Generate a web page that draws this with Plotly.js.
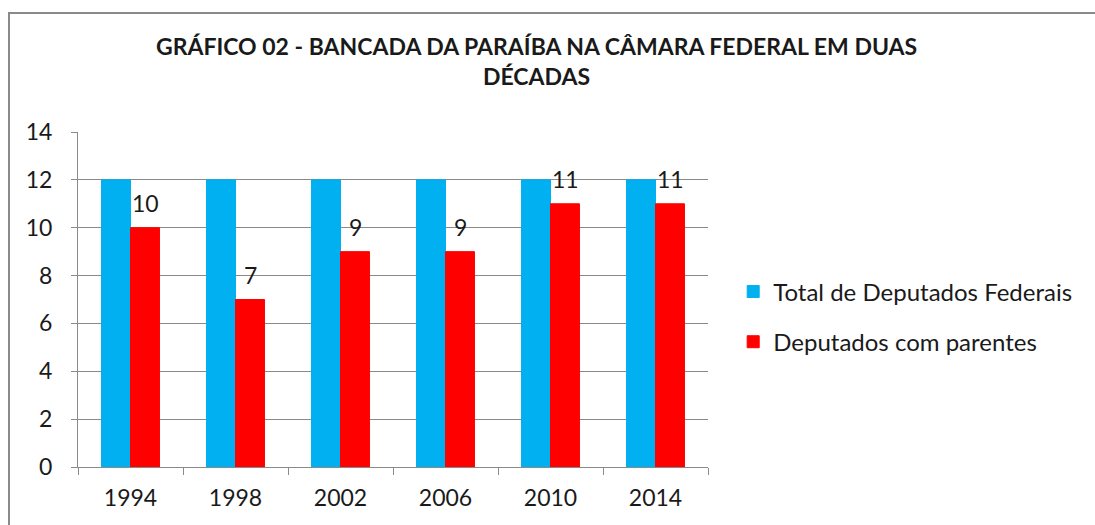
<!DOCTYPE html>
<html>
<head>
<meta charset="utf-8">
<script src="https://cdn.plot.ly/plotly-3.0.1.min.js"></script>
<style>
  html, body { margin: 0; padding: 0; background: #fff; }
  #wrap { position: relative; width: 1095px; height: 525px; overflow: hidden; }
  #chart { position: absolute; left: 0; top: 0; width: 1095px; height: 525px; }
  #frame { position: absolute; left: 8px; top: 12px; width: 1100px; height: 600px;
           border-left: 2px solid #8a8a8a; border-top: 2px solid #8a8a8a; pointer-events: none; }
</style>
</head>
<body>
<div id="wrap">
  <div id="chart"></div>
  <div id="frame"></div>
</div>
<script>
const years = ['1994', '1998', '2002', '2006', '2010', '2014'];
const totalDeputados = [12, 12, 12, 12, 12, 12];
const comParentes = [10, 7, 9, 9, 11, 11];
const seriesNames = ['Total de Deputados Federais', 'Deputados com parentes'];
const titleText = 'GRÁFICO 02 - BANCADA DA PARAÍBA NA CÂMARA FEDERAL EM DUAS<br>DÉCADAS';

const FONT = 'Lato, "Open Sans", sans-serif';
const gray = '#8a8a8a';

const traces = [
  { type: 'bar', x: years, y: totalDeputados, name: seriesNames[0],
    legendgroup: 'a', marker: { color: '#00B0F0', line: { color: '#00B0F0', width: 1 } }, hoverinfo: 'none' },
  { type: 'bar', x: years, y: comParentes, name: seriesNames[1],
    legendgroup: 'b', marker: { color: '#FF0000', line: { color: '#FF0000', width: 1 } }, hoverinfo: 'none' }
];

// category index positions (years are numeric-looking strings)
const annotations = comParentes.map((v, i) => ({
  x: i, y: v, xref: 'x', yref: 'y',
  text: String(v), showarrow: false,
  xshift: 14.5, yshift: 25, yanchor: 'middle', xanchor: 'center',
  font: { family: FONT, size: 23, color: '#1a1a1a' }
}));

const layout = {
  width: 1095, height: 525,
  paper_bgcolor: 'rgba(0,0,0,0)', plot_bgcolor: '#fff',
  margin: { l: 78, r: 387, t: 132, b: 58, pad: 0 },
  font: { family: FONT, size: 23, color: '#1a1a1a' },
  title: {
    text: titleText,
    font: { family: FONT, size: 23, color: '#1a1a1a', weight: 'bold' },
    xref: 'container', yref: 'container',
    x: 0.49, xanchor: 'center', y: 0.895, yanchor: 'top'
  },
  barmode: 'group', bargap: 0.448, bargroupgap: 0,
  xaxis: {
    type: 'category', range: [-0.5, 5.5], autorange: false,
    showgrid: false, showline: true, linecolor: gray, linewidth: 1,
    ticks: 'outside', tickson: 'boundaries', ticklen: 7, tickcolor: gray,
    ticklabelstandoff: 10,
    tickfont: { family: FONT, size: 23, color: '#1a1a1a' }, fixedrange: true
  },
  yaxis: {
    range: [0, 14], dtick: 2, showgrid: true, gridcolor: gray, gridwidth: 1,
    showline: true, linecolor: gray, linewidth: 1, zeroline: false,
    ticks: 'outside', ticklen: 6, tickcolor: gray, ticklabelstandoff: 14,
    tickfont: { family: FONT, size: 23, color: '#1a1a1a' }, fixedrange: true
  },
  legend: {
    x: 1.04, xanchor: 'left', y: 0.448, yanchor: 'middle',
    traceorder: 'grouped', tracegroupgap: 16,
    font: { family: FONT, size: 24, color: '#1a1a1a' },
    bgcolor: 'rgba(0,0,0,0)'
  },
  annotations: annotations,
  showlegend: true
};

Plotly.newPlot('chart', traces, layout, { displayModeBar: false, staticPlot: true });
</script>
</body>
</html>
